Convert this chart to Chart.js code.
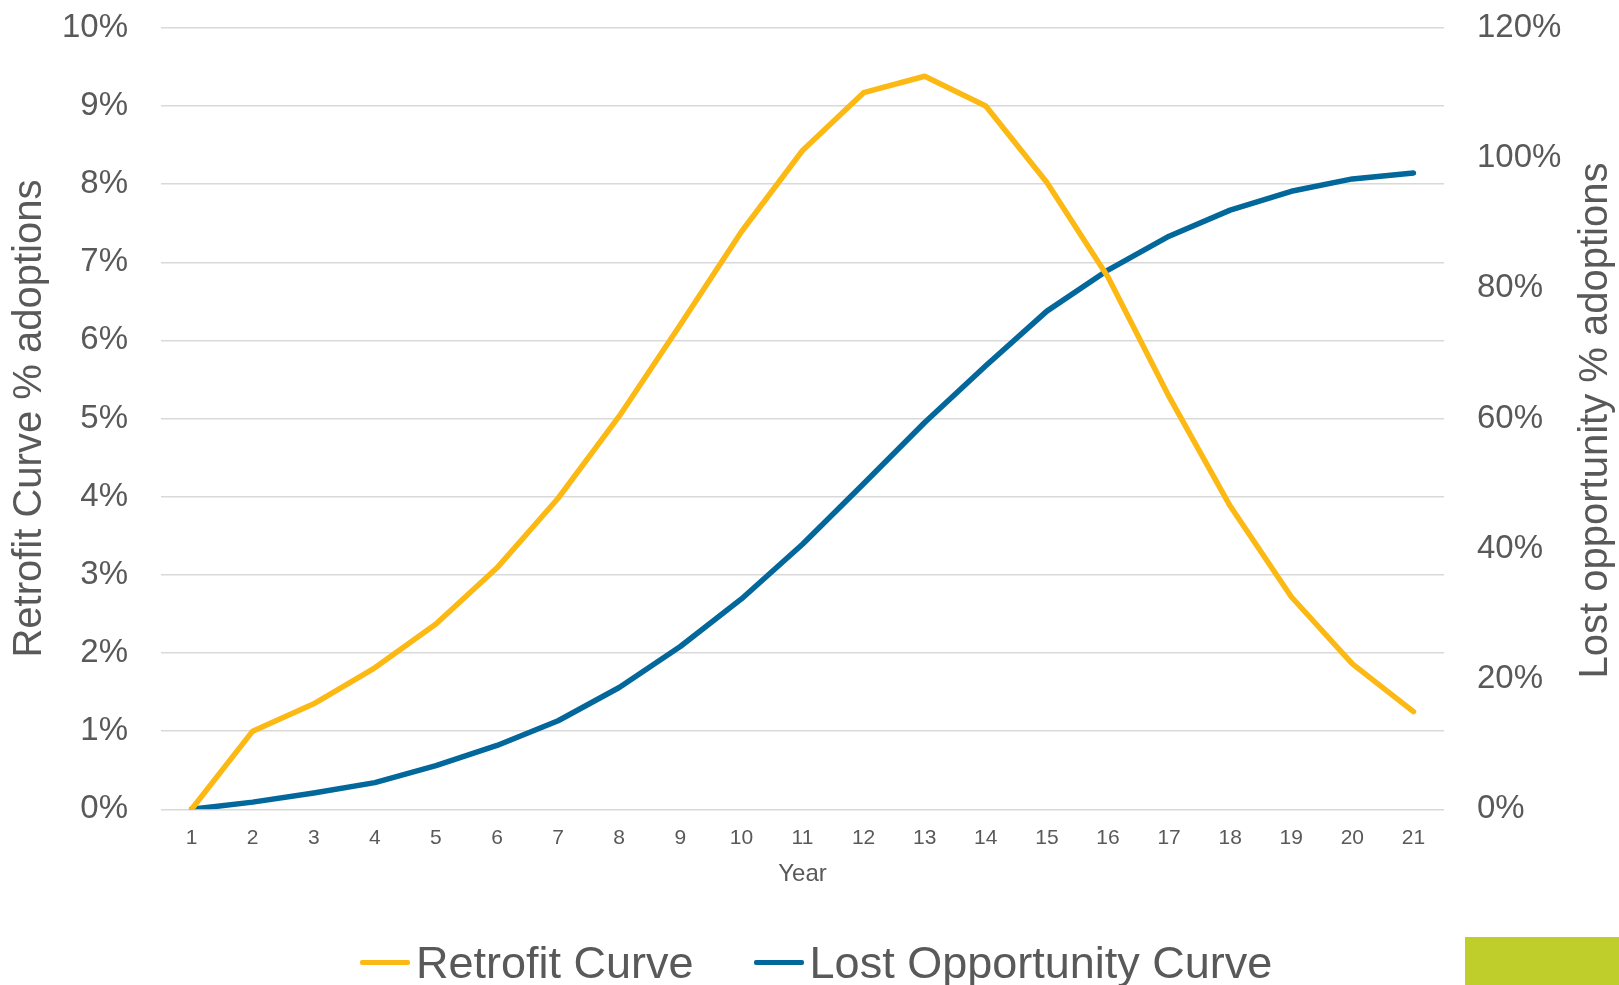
<!DOCTYPE html>
<html>
<head>
<meta charset="utf-8">
<script src="https://cdn.jsdelivr.net/npm/chart.js@4.4.1/dist/chart.umd.min.js"></script>
<style>
  html, body { margin: 0; padding: 0; background: #fff; overflow: hidden; }
  #wrap { position: relative; width: 1619px; height: 985px; overflow: hidden; }
  #curveChart { position: absolute; left: 0; top: -25px; }
  #legend { position: absolute; left: 360px; top: 940px; height: 45px; display: flex; align-items: center;
            font-family: "Liberation Sans", Arial, sans-serif; font-size: 45px; line-height: 45px; color: #595959; white-space: nowrap; }
  .item { display: flex; align-items: center; margin-right: 60px; }
  .swatch { width: 50px; height: 5px; margin-right: 6px; border-radius: 2px; }
  #corner { position: absolute; left: 1465px; top: 937px; width: 154px; height: 48px; background: #bfce2b; }
</style>
</head>
<body>
<div id="wrap">
  <canvas id="curveChart" width="1619" height="1010"></canvas>
  <div id="legend"></div>
  <div id="corner"></div>
</div>
<script>
  // categories and series (percent values)
  const years = ['1','2','3','4','5','6','7','8','9','10','11','12','13','14','15','16','17','18','19','20','21'];
  const retrofitCurve = [0, 1.00, 1.35, 1.81, 2.37, 3.09, 3.98, 5.03, 6.20, 7.39, 8.43, 9.17, 9.38, 9.00, 8.02, 6.81, 5.28, 3.88, 2.72, 1.86, 1.25];
  const lostOpportunityCurve = [0, 1.1, 2.5, 4.1, 6.7, 9.8, 13.6, 18.7, 25.0, 32.3, 40.7, 50.0, 59.4, 68.1, 76.5, 82.8, 88.0, 92.0, 94.9, 96.8, 97.7];

  const FONT = '"Liberation Sans", Arial, sans-serif';
  const GREY = '#595959';

  // right axis title reads bottom-to-top in the original, so draw it by hand
  const rightTitle = {
    id: 'rightTitle',
    afterDraw(chart) {
      const ctx = chart.ctx;
      const area = chart.chartArea;
      ctx.save();
      ctx.translate(chart.scales.y1.right - 23, (area.top + area.bottom) / 2 + 2);
      ctx.rotate(-Math.PI / 2);
      ctx.font = '40px ' + FONT;
      ctx.fillStyle = GREY;
      ctx.textAlign = 'center';
      ctx.textBaseline = 'middle';
      ctx.fillText('Lost opportunity % adoptions', 0, 0);
      ctx.restore();
    }
  };

  const data = {
    labels: years,
    datasets: [
      {
        label: 'Retrofit Curve',
        data: retrofitCurve,
        borderColor: '#fdb913',
        backgroundColor: '#fdb913',
        borderWidth: 5.5,
        yAxisID: 'y'
      },
      {
        label: 'Lost Opportunity Curve',
        data: lostOpportunityCurve,
        borderColor: '#02679a',
        backgroundColor: '#02679a',
        borderWidth: 5.5,
        yAxisID: 'y1'
      }
    ]
  };

  const options = {
    responsive: false,
    animation: false,
    layout: { padding: { top: 1, left: 0, right: 0, bottom: 0 } },
    elements: {
      point: { radius: 0 },
      line: { tension: 0, borderCapStyle: 'round', borderJoinStyle: 'round' }
    },
    plugins: {
      legend: { display: false },
      tooltip: { enabled: false }
    },
    scales: {
      x: {
        offset: true,
        grid: { display: false },
        border: { display: false },
        ticks: { color: GREY, font: { family: FONT, size: 21 }, padding: 8, maxRotation: 0 },
        title: { display: true, text: 'Year', color: GREY, font: { family: FONT, size: 24 }, padding: { top: 0, bottom: 96 } },
        afterFit(scale) { scale.height = 175.7; }
      },
      y: {
        position: 'left',
        min: 0,
        max: 10,
        grid: { color: '#d9d9d9', lineWidth: 1.5, drawTicks: false },
        border: { display: false },
        ticks: { stepSize: 1, color: GREY, font: { family: FONT, size: 33 }, padding: 33, callback: v => v + '%' },
        title: { display: true, text: 'Retrofit Curve % adoptions', color: GREY, font: { family: FONT, size: 40 }, padding: { top: 6, bottom: 0 } },
        afterFit(scale) { scale.width = 161; }
      },
      y1: {
        position: 'right',
        min: 0,
        max: 120,
        grid: { display: false, drawTicks: false },
        border: { display: false },
        ticks: { stepSize: 20, color: GREY, font: { family: FONT, size: 33 }, padding: 33, callback: v => v + '%' },
        afterFit(scale) { scale.width = 175; }
      }
    }
  };

  const ctx = document.getElementById('curveChart').getContext('2d');
  const myChart = new Chart(ctx, {
    type: 'line',
    data: data,
    options: options,
    plugins: [rightTitle]
  });

  // html legend built from the datasets
  const legend = document.getElementById('legend');
  myChart.data.datasets.forEach(ds => {
    const item = document.createElement('div');
    item.className = 'item';
    const sw = document.createElement('span');
    sw.className = 'swatch';
    sw.style.background = ds.borderColor;
    const txt = document.createElement('span');
    txt.textContent = ds.label;
    item.appendChild(sw);
    item.appendChild(txt);
    legend.appendChild(item);
  });
</script>
</body>
</html>
